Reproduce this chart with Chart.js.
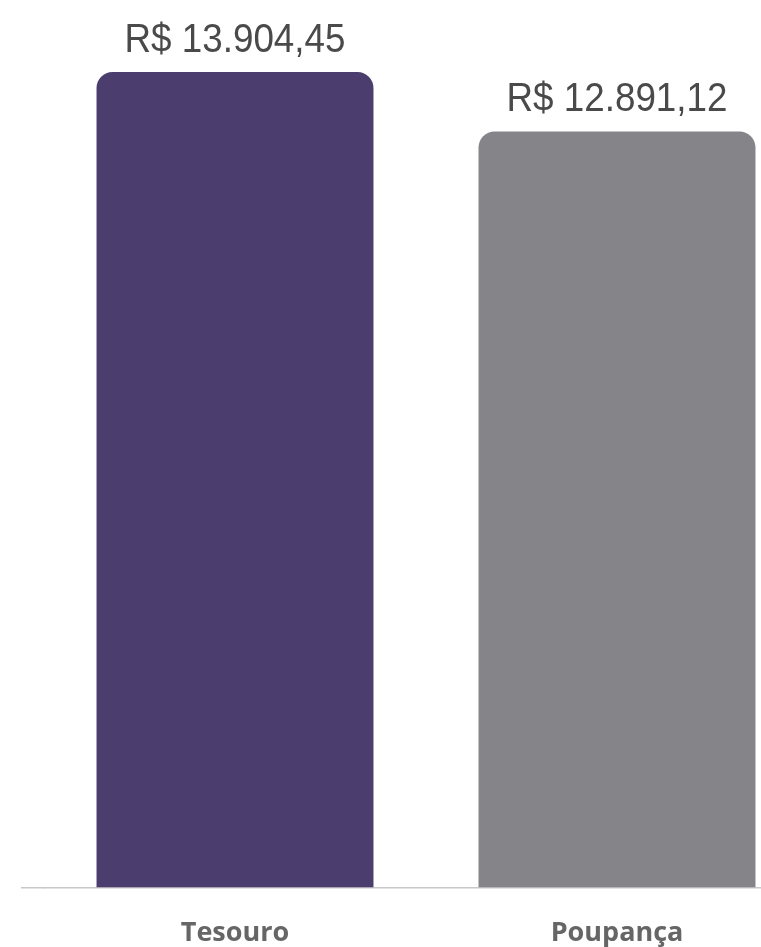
<!DOCTYPE html>
<html>
<head>
<meta charset="utf-8">
<script src="https://cdn.jsdelivr.net/npm/chart.js@4.4.1/dist/chart.umd.min.js"></script>
<style>
    html, body { margin: 0; padding: 0; background: #fff; overflow: hidden; }
    #wrap { width: 808px; height: 947px; position: relative; }
</style>
</head>
<body>
<div id="wrap"><canvas id="barChart"></canvas></div>
<script>
// data
const categories = ['Tesouro', 'Poupança'];
const values = [13904.45, 12891.12];
const barColors = ['#4b3e6f', '#858489'];
const yMax = 15131;

// R$ 13.904,45 style
function formatBRL(v) {
    const parts = v.toFixed(2).split('.');
    const intPart = parts[0].replace(/\B(?=(\d{3})+(?!\d))/g, '.');
    return 'R$ ' + intPart + ',' + parts[1];
}

// value labels above the bars (slightly condensed, like the original font)
const valueLabels = {
    id: 'valueLabels',
    afterDatasetsDraw(chart) {
        const ctx = chart.ctx;
        const meta = chart.getDatasetMeta(0);
        meta.data.forEach((bar, i) => {
            ctx.save();
            ctx.translate(bar.x, bar.y - 31);
            ctx.scale(0.92, 1);
            ctx.font = '300 40px "Liberation Sans Narrow", "Liberation Sans", sans-serif';
            ctx.fillStyle = '#4a4a4a';
            ctx.textAlign = 'center';
            ctx.textBaseline = 'middle';
            ctx.fillText(formatBRL(values[i]), 0, 0);
            ctx.restore();
        });
    }
};

document.addEventListener('DOMContentLoaded', () => {
    const ctx = document.getElementById('barChart');
    new Chart(ctx, {
        type: 'bar',
        data: {
            labels: categories,
            datasets: [{
                data: values,
                backgroundColor: barColors,
                borderRadius: { topLeft: 16, topRight: 16 },
                borderSkipped: 'bottom',
                barPercentage: 0.725,
                categoryPercentage: 1
            }]
        },
        options: {
            responsive: true,
            maintainAspectRatio: false,
            animation: false,
            layout: { padding: { left: 21, top: 0, right: 0, bottom: 0 } },
            plugins: {
                legend: { display: false },
                tooltip: { enabled: false }
            },
            scales: {
                x: {
                    grid: { display: false, drawTicks: false },
                    border: { display: true, color: '#c8c8c8', width: 1.5 },
                    ticks: {
                        padding: 29,
                        color: '#666',
                        font: { family: '"Open Sans", sans-serif', size: 27, weight: 'bold', lineHeight: 1.2 }
                    },
                    afterFit: (scale) => { scale.height = 59; }
                },
                y: {
                    min: 0,
                    max: yMax,
                    border: { display: false },
                    grid: {
                        drawOnChartArea: false,
                        drawTicks: true,
                        tickLength: 23,
                        lineWidth: 1.5,
                        color: (c) => (c.tick && c.tick.value === 0 ? '#c8c8c8' : 'rgba(0,0,0,0)')
                    },
                    ticks: { display: false }
                }
            }
        },
        plugins: [valueLabels]
    });
});
</script>
</body>
</html>
